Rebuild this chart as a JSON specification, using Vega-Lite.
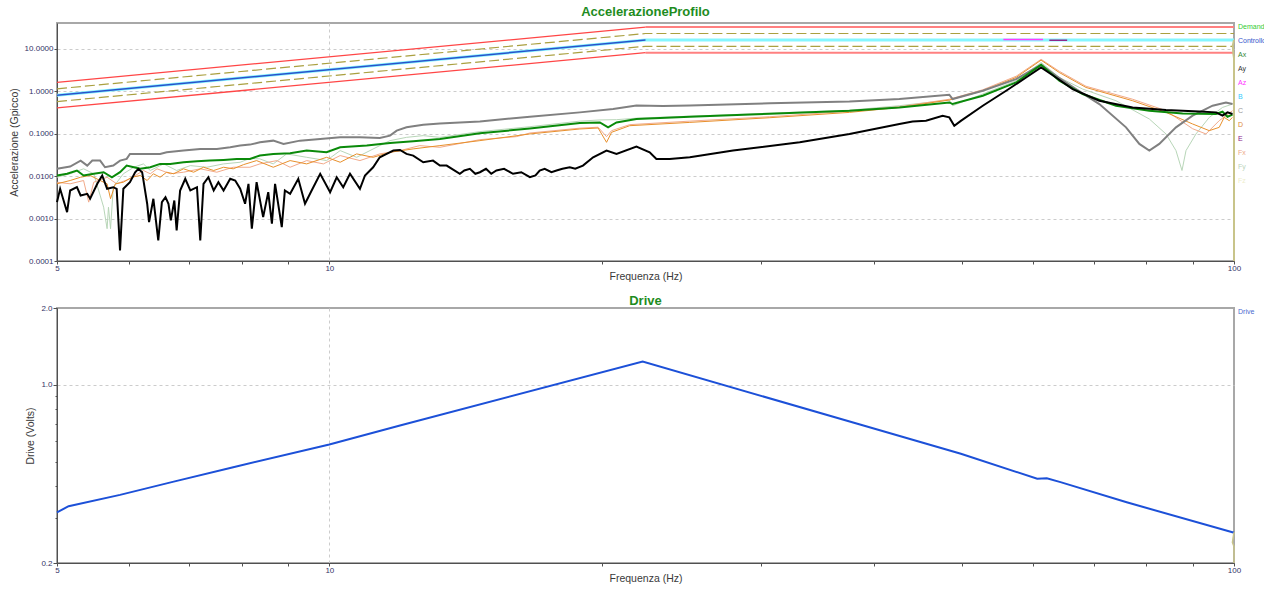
{
  "$schema": "https://vega.github.io/schema/vega-lite/v6.json",
  "background": "white",
  "padding": {"left": 8, "top": 5, "right": 0, "bottom": 0},
  "config": {
    "font": "Liberation Sans",
    "view": {"stroke": "#a8a8a8", "strokeWidth": 2},
    "axis": {
      "labelFont": "Liberation Sans", "labelFontSize": 8, "labelColor": "#333366",
      "titleFont": "Liberation Sans", "titleFontSize": 10.5, "titleFontWeight": "normal", "titleColor": "#3a3a3a",
      "domainColor": "#505050", "tickColor": "#505050", "tickSize": 3,
      "gridColor": "#cccccc", "gridDash": [3, 3], "gridWidth": 1
    },
    "title": {"font": "Liberation Sans", "fontSize": 13, "fontWeight": "bold", "color": "#1e8c1e", "offset": 4, "frame": "group", "anchor": "middle"},
    "legend": {
      "orient": "right", "offset": 2, "padding": 0, "title": null,
      "symbolSize": 1, "symbolOpacity": 0, "symbolStrokeWidth": 0,
      "labelFont": "Liberation Sans", "labelFontSize": 7, "labelOffset": -9, "labelLimit": 40, "rowPadding": 6.0
    }
  },
  "datasets": {
    "abort": [
      {"l": "hi", "t": "rampa", "f": 5, "a": 1.6}, {"l": "hi", "t": "rampa", "f": 22.36, "a": 32},
      {"l": "lo", "t": "rampa", "f": 5, "a": 0.4}, {"l": "lo", "t": "rampa", "f": 22.36, "a": 8},
      {"l": "hi", "t": "piatto", "f": 22.36, "a": 32}, {"l": "hi", "t": "piatto", "f": 100, "a": 32},
      {"l": "lo", "t": "piatto", "f": 22.36, "a": 8}, {"l": "lo", "t": "piatto", "f": 100, "a": 8}
    ],
    "allarme": [
      {"l": "hi", "f": 5, "a": 1.131}, {"l": "hi", "f": 22.36, "a": 22.63}, {"l": "hi", "f": 100, "a": 22.63},
      {"l": "lo", "f": 5, "a": 0.566}, {"l": "lo", "f": 22.36, "a": 11.31}, {"l": "lo", "f": 100, "a": 11.31}
    ],
    "profilo": [
      {"f": 5, "a": 0.8}, {"f": 22.36, "a": 16}, {"f": 100, "a": 16}
    ],
    "controllo": [
      {"s": "Controllo", "f": 5, "a": 0.8}, {"s": "Controllo", "f": 22.36, "a": 16},
      {"s": "Az", "f": 55.6, "a": 16.3}, {"s": "Az", "f": 61.5, "a": 16.3},
      {"s": "E", "f": 62.5, "a": 15.7}, {"s": "E", "f": 65.4, "a": 15.7}
    ],
    "bordo": [
      {"f": 100, "a": 16}, {"f": 99.7, "a": 12}, {"f": 99.8, "a": 8}, {"f": 100, "a": 6}, {"f": 100, "a": 0.0001}
    ],
    "tracce": [
      {"s": "Fy", "f": 5.00, "a": 0.00937}, {"s": "Fy", "f": 5.17, "a": 0.0113}, {"s": "Fy", "f": 5.35, "a": 0.0148}, {"s": "Fy", "f": 5.49, "a": 0.0113},
      {"s": "Fy", "f": 5.63, "a": 0.00185}, {"s": "Fy", "f": 5.68, "a": 0.000576}, {"s": "Fy", "f": 5.70, "a": 0.00185}, {"s": "Fy", "f": 5.73, "a": 0.000576},
      {"s": "Fy", "f": 5.77, "a": 0.00546}, {"s": "Fy", "f": 5.92, "a": 0.0113}, {"s": "Fy", "f": 6.08, "a": 0.0161}, {"s": "Fy", "f": 6.23, "a": 0.0193},
      {"s": "Fy", "f": 6.34, "a": 0.0135}, {"s": "Fy", "f": 6.56, "a": 0.0193}, {"s": "Fy", "f": 6.78, "a": 0.0135}, {"s": "Fy", "f": 7.02, "a": 0.0176},
      {"s": "Fy", "f": 7.32, "a": 0.0161}, {"s": "Fy", "f": 7.64, "a": 0.0193}, {"s": "Fy", "f": 7.97, "a": 0.0211}, {"s": "Fy", "f": 8.17, "a": 0.026},
      {"s": "Fy", "f": 8.38, "a": 0.0253}, {"s": "Fy", "f": 8.67, "a": 0.0193}, {"s": "Fy", "f": 8.97, "a": 0.0332}, {"s": "Fy", "f": 9.44, "a": 0.0276},
      {"s": "Fy", "f": 9.93, "a": 0.0231}, {"s": "Fy", "f": 10.28, "a": 0.0397}, {"s": "Fy", "f": 10.72, "a": 0.0276}, {"s": "Fy", "f": 11.37, "a": 0.052},
      {"s": "Fy", "f": 11.67, "a": 0.0681}, {"s": "Fy", "f": 12.17, "a": 0.0814}, {"s": "Fy", "f": 12.70, "a": 0.0893}, {"s": "Fy", "f": 13.25, "a": 0.0814},
      {"s": "Fy", "f": 14.67, "a": 0.111}, {"s": "Fy", "f": 16.66, "a": 0.145}, {"s": "Fy", "f": 18.92, "a": 0.196}, {"s": "Fy", "f": 19.91, "a": 0.209},
      {"s": "Fy", "f": 20.77, "a": 0.212}, {"s": "Fy", "f": 21.85, "a": 0.23}, {"s": "Fy", "f": 25.03, "a": 0.256}, {"s": "Fy", "f": 30.68, "a": 0.301},
      {"s": "Fy", "f": 37.58, "a": 0.354}, {"s": "Fy", "f": 42.67, "a": 0.452}, {"s": "Fy", "f": 48.45, "a": 0.615}, {"s": "Fy", "f": 48.86, "a": 0.452},
      {"s": "Fy", "f": 52.76, "a": 0.85}, {"s": "Fy", "f": 57.43, "a": 1.745}, {"s": "Fy", "f": 61.20, "a": 4.69}, {"s": "Fy", "f": 64.11, "a": 2.09},
      {"s": "Fy", "f": 68.03, "a": 1.114}, {"s": "Fy", "f": 74.06, "a": 0.592}, {"s": "Fy", "f": 80.61, "a": 0.22}, {"s": "Fy", "f": 84.10, "a": 0.0979},
      {"s": "Fy", "f": 86.27, "a": 0.0397}, {"s": "Fy", "f": 87.60, "a": 0.0135}, {"s": "Fy", "f": 88.50, "a": 0.0397}, {"s": "Fy", "f": 90.78, "a": 0.0979},
      {"s": "Fy", "f": 93.90, "a": 0.24}, {"s": "Fy", "f": 97.12, "a": 0.412}, {"s": "Fy", "f": 99.62, "a": 0.495},

      {"s": "Fx", "f": 5.00, "a": 0.00715}, {"s": "Fx", "f": 5.17, "a": 0.00656}, {"s": "Fx", "f": 5.35, "a": 0.00784}, {"s": "Fx", "f": 5.42, "a": 0.00243},
      {"s": "Fx", "f": 5.49, "a": 0.00715}, {"s": "Fx", "f": 5.68, "a": 0.00937}, {"s": "Fx", "f": 5.82, "a": 0.00656}, {"s": "Fx", "f": 6.02, "a": 0.0086},
      {"s": "Fx", "f": 6.23, "a": 0.0135}, {"s": "Fx", "f": 6.34, "a": 0.0113}, {"s": "Fx", "f": 6.45, "a": 0.0148}, {"s": "Fx", "f": 6.67, "a": 0.0113},
      {"s": "Fx", "f": 6.90, "a": 0.0123}, {"s": "Fx", "f": 7.20, "a": 0.0148}, {"s": "Fx", "f": 7.51, "a": 0.0123}, {"s": "Fx", "f": 7.83, "a": 0.0161},
      {"s": "Fx", "f": 8.17, "a": 0.0161}, {"s": "Fx", "f": 8.38, "a": 0.0193}, {"s": "Fx", "f": 8.75, "a": 0.0231}, {"s": "Fx", "f": 9.05, "a": 0.0161},
      {"s": "Fx", "f": 9.44, "a": 0.0231}, {"s": "Fx", "f": 9.85, "a": 0.0193}, {"s": "Fx", "f": 10.28, "a": 0.0303}, {"s": "Fx", "f": 10.81, "a": 0.0231},
      {"s": "Fx", "f": 11.37, "a": 0.0332}, {"s": "Fx", "f": 11.97, "a": 0.0397}, {"s": "Fx", "f": 12.59, "a": 0.052}, {"s": "Fx", "f": 13.25, "a": 0.0474},
      {"s": "Fx", "f": 14.67, "a": 0.0719}, {"s": "Fx", "f": 16.10, "a": 0.0846}, {"s": "Fx", "f": 16.66, "a": 0.103}, {"s": "Fx", "f": 18.92, "a": 0.134},
      {"s": "Fx", "f": 19.82, "a": 0.141}, {"s": "Fx", "f": 20.25, "a": 0.0846}, {"s": "Fx", "f": 20.51, "a": 0.117}, {"s": "Fx", "f": 21.48, "a": 0.162},
      {"s": "Fx", "f": 25.03, "a": 0.196}, {"s": "Fx", "f": 30.68, "a": 0.249}, {"s": "Fx", "f": 37.58, "a": 0.336}, {"s": "Fx", "f": 42.67, "a": 0.428},
      {"s": "Fx", "f": 48.45, "a": 0.642}, {"s": "Fx", "f": 52.76, "a": 1.073}, {"s": "Fx", "f": 57.43, "a": 2.23}, {"s": "Fx", "f": 61.20, "a": 5.58},
      {"s": "Fx", "f": 64.11, "a": 2.92}, {"s": "Fx", "f": 68.62, "a": 1.296}, {"s": "Fx", "f": 77.26, "a": 0.642}, {"s": "Fx", "f": 84.10, "a": 0.345},
      {"s": "Fx", "f": 90.00, "a": 0.13}, {"s": "Fx", "f": 93.11, "a": 0.0979}, {"s": "Fx", "f": 96.31, "a": 0.201}, {"s": "Fx", "f": 99.62, "a": 0.345},

      {"s": "D", "f": 5.00, "a": 0.00656}, {"s": "D", "f": 5.17, "a": 0.00784}, {"s": "D", "f": 5.31, "a": 0.00937}, {"s": "D", "f": 5.44, "a": 0.0103},
      {"s": "D", "f": 5.58, "a": 0.00784}, {"s": "D", "f": 5.68, "a": 0.00656}, {"s": "D", "f": 5.73, "a": 0.00292}, {"s": "D", "f": 5.80, "a": 0.00656},
      {"s": "D", "f": 5.92, "a": 0.00715}, {"s": "D", "f": 6.05, "a": 0.00937}, {"s": "D", "f": 6.18, "a": 0.0103}, {"s": "D", "f": 6.29, "a": 0.00784},
      {"s": "D", "f": 6.39, "a": 0.0113}, {"s": "D", "f": 6.50, "a": 0.00937}, {"s": "D", "f": 6.61, "a": 0.0123}, {"s": "D", "f": 6.73, "a": 0.0113},
      {"s": "D", "f": 6.90, "a": 0.0148}, {"s": "D", "f": 7.08, "a": 0.0123}, {"s": "D", "f": 7.26, "a": 0.0161}, {"s": "D", "f": 7.45, "a": 0.0135},
      {"s": "D", "f": 7.64, "a": 0.0161}, {"s": "D", "f": 7.83, "a": 0.0148}, {"s": "D", "f": 8.04, "a": 0.0186}, {"s": "D", "f": 8.31, "a": 0.0231},
      {"s": "D", "f": 8.67, "a": 0.0161}, {"s": "D", "f": 9.05, "a": 0.0231}, {"s": "D", "f": 9.44, "a": 0.0193}, {"s": "D", "f": 9.93, "a": 0.0276},
      {"s": "D", "f": 10.28, "a": 0.0211}, {"s": "D", "f": 10.72, "a": 0.0332}, {"s": "D", "f": 11.18, "a": 0.0276}, {"s": "D", "f": 11.67, "a": 0.0362},
      {"s": "D", "f": 12.38, "a": 0.0435}, {"s": "D", "f": 13.25, "a": 0.052}, {"s": "D", "f": 14.67, "a": 0.0681}, {"s": "D", "f": 16.66, "a": 0.0979},
      {"s": "D", "f": 18.92, "a": 0.128}, {"s": "D", "f": 19.82, "a": 0.135}, {"s": "D", "f": 20.25, "a": 0.0621}, {"s": "D", "f": 20.51, "a": 0.107},
      {"s": "D", "f": 21.48, "a": 0.153}, {"s": "D", "f": 25.03, "a": 0.183}, {"s": "D", "f": 30.68, "a": 0.236}, {"s": "D", "f": 37.58, "a": 0.315},
      {"s": "D", "f": 42.67, "a": 0.412}, {"s": "D", "f": 48.45, "a": 0.615}, {"s": "D", "f": 52.76, "a": 1.016}, {"s": "D", "f": 57.43, "a": 2.09},
      {"s": "D", "f": 61.20, "a": 5.34}, {"s": "D", "f": 64.11, "a": 2.73}, {"s": "D", "f": 68.62, "a": 1.215}, {"s": "D", "f": 77.26, "a": 0.592},
      {"s": "D", "f": 84.10, "a": 0.315}, {"s": "D", "f": 90.00, "a": 0.168}, {"s": "D", "f": 93.90, "a": 0.117}, {"s": "D", "f": 96.31, "a": 0.14},
      {"s": "D", "f": 97.54, "a": 0.24}, {"s": "D", "f": 98.79, "a": 0.201}, {"s": "D", "f": 99.62, "a": 0.24},

      {"s": "C", "f": 5.00, "a": 0.0148}, {"s": "C", "f": 5.17, "a": 0.0167}, {"s": "C", "f": 5.31, "a": 0.0231}, {"s": "C", "f": 5.40, "a": 0.0176},
      {"s": "C", "f": 5.47, "a": 0.0231}, {"s": "C", "f": 5.58, "a": 0.0231}, {"s": "C", "f": 5.65, "a": 0.0161}, {"s": "C", "f": 5.77, "a": 0.0176},
      {"s": "C", "f": 5.87, "a": 0.0231}, {"s": "C", "f": 5.97, "a": 0.0253}, {"s": "C", "f": 6.02, "a": 0.0332}, {"s": "C", "f": 6.18, "a": 0.0332},
      {"s": "C", "f": 6.34, "a": 0.0332}, {"s": "C", "f": 6.50, "a": 0.0332}, {"s": "C", "f": 6.61, "a": 0.0362}, {"s": "C", "f": 6.90, "a": 0.0397},
      {"s": "C", "f": 7.20, "a": 0.0435}, {"s": "C", "f": 7.51, "a": 0.0435}, {"s": "C", "f": 7.77, "a": 0.0474}, {"s": "C", "f": 7.97, "a": 0.052},
      {"s": "C", "f": 8.17, "a": 0.0549}, {"s": "C", "f": 8.38, "a": 0.0621}, {"s": "C", "f": 8.67, "a": 0.0681}, {"s": "C", "f": 8.90, "a": 0.057},
      {"s": "C", "f": 9.28, "a": 0.0681}, {"s": "C", "f": 9.77, "a": 0.0747}, {"s": "C", "f": 10.28, "a": 0.0814}, {"s": "C", "f": 10.81, "a": 0.0814},
      {"s": "C", "f": 11.37, "a": 0.0788}, {"s": "C", "f": 11.67, "a": 0.0893}, {"s": "C", "f": 11.87, "a": 0.117}, {"s": "C", "f": 12.17, "a": 0.14},
      {"s": "C", "f": 12.70, "a": 0.162}, {"s": "C", "f": 13.25, "a": 0.173}, {"s": "C", "f": 14.67, "a": 0.193}, {"s": "C", "f": 16.66, "a": 0.249},
      {"s": "C", "f": 18.92, "a": 0.315}, {"s": "C", "f": 20.59, "a": 0.378}, {"s": "C", "f": 21.85, "a": 0.459}, {"s": "C", "f": 23.38, "a": 0.444},
      {"s": "C", "f": 25.03, "a": 0.459}, {"s": "C", "f": 30.68, "a": 0.517}, {"s": "C", "f": 37.58, "a": 0.57}, {"s": "C", "f": 42.67, "a": 0.649},
      {"s": "C", "f": 48.45, "a": 0.819}, {"s": "C", "f": 48.86, "a": 0.649}, {"s": "C", "f": 52.76, "a": 1.016}, {"s": "C", "f": 57.43, "a": 1.91},
      {"s": "C", "f": 61.20, "a": 4.2}, {"s": "C", "f": 63.58, "a": 2.29}, {"s": "C", "f": 66.89, "a": 1.114}, {"s": "C", "f": 70.98, "a": 0.495},
      {"s": "C", "f": 75.97, "a": 0.14}, {"s": "C", "f": 78.59, "a": 0.057}, {"s": "C", "f": 80.61, "a": 0.0397}, {"s": "C", "f": 82.68, "a": 0.057},
      {"s": "C", "f": 86.27, "a": 0.14}, {"s": "C", "f": 90.00, "a": 0.263}, {"s": "C", "f": 94.69, "a": 0.452}, {"s": "C", "f": 97.97, "a": 0.54},
      {"s": "C", "f": 99.62, "a": 0.495},

      {"s": "Ax", "f": 5.00, "a": 0.0103}, {"s": "Ax", "f": 5.13, "a": 0.0113}, {"s": "Ax", "f": 5.26, "a": 0.0135}, {"s": "Ax", "f": 5.35, "a": 0.0103},
      {"s": "Ax", "f": 5.49, "a": 0.0113}, {"s": "Ax", "f": 5.63, "a": 0.0123}, {"s": "Ax", "f": 5.75, "a": 0.00937}, {"s": "Ax", "f": 5.87, "a": 0.0123},
      {"s": "Ax", "f": 5.97, "a": 0.0176}, {"s": "Ax", "f": 6.08, "a": 0.0161}, {"s": "Ax", "f": 6.18, "a": 0.0148}, {"s": "Ax", "f": 6.34, "a": 0.0161},
      {"s": "Ax", "f": 6.50, "a": 0.0193}, {"s": "Ax", "f": 6.67, "a": 0.0193}, {"s": "Ax", "f": 6.90, "a": 0.0211}, {"s": "Ax", "f": 7.14, "a": 0.0223},
      {"s": "Ax", "f": 7.38, "a": 0.0231}, {"s": "Ax", "f": 7.64, "a": 0.024}, {"s": "Ax", "f": 7.90, "a": 0.0253}, {"s": "Ax", "f": 8.17, "a": 0.0253},
      {"s": "Ax", "f": 8.38, "a": 0.0303}, {"s": "Ax", "f": 8.67, "a": 0.0332}, {"s": "Ax", "f": 9.05, "a": 0.0343}, {"s": "Ax", "f": 9.44, "a": 0.0397},
      {"s": "Ax", "f": 9.93, "a": 0.0362}, {"s": "Ax", "f": 10.28, "a": 0.0474}, {"s": "Ax", "f": 11.00, "a": 0.052}, {"s": "Ax", "f": 11.67, "a": 0.0602},
      {"s": "Ax", "f": 12.38, "a": 0.0656}, {"s": "Ax", "f": 13.25, "a": 0.0747}, {"s": "Ax", "f": 14.67, "a": 0.101}, {"s": "Ax", "f": 16.66, "a": 0.132},
      {"s": "Ax", "f": 18.92, "a": 0.177}, {"s": "Ax", "f": 19.91, "a": 0.183}, {"s": "Ax", "f": 20.33, "a": 0.14}, {"s": "Ax", "f": 20.77, "a": 0.183},
      {"s": "Ax", "f": 21.85, "a": 0.22}, {"s": "Ax", "f": 25.03, "a": 0.249}, {"s": "Ax", "f": 30.68, "a": 0.293}, {"s": "Ax", "f": 37.58, "a": 0.345},
      {"s": "Ax", "f": 42.67, "a": 0.412}, {"s": "Ax", "f": 48.45, "a": 0.54}, {"s": "Ax", "f": 48.86, "a": 0.495}, {"s": "Ax", "f": 52.76, "a": 0.776},
      {"s": "Ax", "f": 57.43, "a": 1.592}, {"s": "Ax", "f": 61.20, "a": 4.14}, {"s": "Ax", "f": 64.11, "a": 1.745}, {"s": "Ax", "f": 68.03, "a": 0.85},
      {"s": "Ax", "f": 74.06, "a": 0.452}, {"s": "Ax", "f": 80.61, "a": 0.345}, {"s": "Ax", "f": 87.73, "a": 0.298}, {"s": "Ax", "f": 95.51, "a": 0.288},
      {"s": "Ax", "f": 97.12, "a": 0.327}, {"s": "Ax", "f": 98.36, "a": 0.249}, {"s": "Ax", "f": 99.62, "a": 0.278},

      {"s": "Ay", "f": 5.00, "a": 0.00243}, {"s": "Ay", "f": 5.04, "a": 0.00501}, {"s": "Ay", "f": 5.13, "a": 0.00141}, {"s": "Ay", "f": 5.17, "a": 0.00457},
      {"s": "Ay", "f": 5.26, "a": 0.00546}, {"s": "Ay", "f": 5.31, "a": 0.00349}, {"s": "Ay", "f": 5.40, "a": 0.00382}, {"s": "Ay", "f": 5.44, "a": 0.00292},
      {"s": "Ay", "f": 5.54, "a": 0.00656}, {"s": "Ay", "f": 5.61, "a": 0.0103}, {"s": "Ay", "f": 5.68, "a": 0.00501}, {"s": "Ay", "f": 5.77, "a": 0.00546},
      {"s": "Ay", "f": 5.82, "a": 0.00501}, {"s": "Ay", "f": 5.87, "a": 0.000178}, {"s": "Ay", "f": 5.92, "a": 0.00501}, {"s": "Ay", "f": 6.02, "a": 0.00715},
      {"s": "Ay", "f": 6.10, "a": 0.0123}, {"s": "Ay", "f": 6.15, "a": 0.0148}, {"s": "Ay", "f": 6.21, "a": 0.0123}, {"s": "Ay", "f": 6.29, "a": 0.00223},
      {"s": "Ay", "f": 6.32, "a": 0.000823}, {"s": "Ay", "f": 6.39, "a": 0.00292}, {"s": "Ay", "f": 6.47, "a": 0.000306}, {"s": "Ay", "f": 6.53, "a": 0.00243},
      {"s": "Ay", "f": 6.59, "a": 0.00318}, {"s": "Ay", "f": 6.64, "a": 0.00223}, {"s": "Ay", "f": 6.68, "a": 0.000902}, {"s": "Ay", "f": 6.74, "a": 0.00266},
      {"s": "Ay", "f": 6.78, "a": 0.000526}, {"s": "Ay", "f": 6.84, "a": 0.00457}, {"s": "Ay", "f": 6.93, "a": 0.0086}, {"s": "Ay", "f": 7.02, "a": 0.00457},
      {"s": "Ay", "f": 7.14, "a": 0.00546}, {"s": "Ay", "f": 7.20, "a": 0.000306}, {"s": "Ay", "f": 7.26, "a": 0.00656}, {"s": "Ay", "f": 7.35, "a": 0.00937},
      {"s": "Ay", "f": 7.45, "a": 0.00457}, {"s": "Ay", "f": 7.54, "a": 0.00715}, {"s": "Ay", "f": 7.64, "a": 0.00457}, {"s": "Ay", "f": 7.77, "a": 0.0086},
      {"s": "Ay", "f": 7.87, "a": 0.00784}, {"s": "Ay", "f": 7.97, "a": 0.00501}, {"s": "Ay", "f": 8.07, "a": 0.00223}, {"s": "Ay", "f": 8.14, "a": 0.00656},
      {"s": "Ay", "f": 8.21, "a": 0.000576}, {"s": "Ay", "f": 8.31, "a": 0.00715}, {"s": "Ay", "f": 8.45, "a": 0.00108}, {"s": "Ay", "f": 8.56, "a": 0.00417},
      {"s": "Ay", "f": 8.64, "a": 0.000755}, {"s": "Ay", "f": 8.71, "a": 0.00656}, {"s": "Ay", "f": 8.86, "a": 0.000628}, {"s": "Ay", "f": 8.93, "a": 0.00457},
      {"s": "Ay", "f": 9.05, "a": 0.00382}, {"s": "Ay", "f": 9.24, "a": 0.0086}, {"s": "Ay", "f": 9.40, "a": 0.00223}, {"s": "Ay", "f": 9.56, "a": 0.00457},
      {"s": "Ay", "f": 9.77, "a": 0.0113}, {"s": "Ay", "f": 10.02, "a": 0.00417}, {"s": "Ay", "f": 10.19, "a": 0.00937}, {"s": "Ay", "f": 10.36, "a": 0.00546},
      {"s": "Ay", "f": 10.54, "a": 0.0113}, {"s": "Ay", "f": 10.81, "a": 0.00501}, {"s": "Ay", "f": 10.95, "a": 0.0103}, {"s": "Ay", "f": 11.18, "a": 0.0161},
      {"s": "Ay", "f": 11.37, "a": 0.0276}, {"s": "Ay", "f": 11.57, "a": 0.0332}, {"s": "Ay", "f": 11.77, "a": 0.0397}, {"s": "Ay", "f": 11.97, "a": 0.0412},
      {"s": "Ay", "f": 12.17, "a": 0.0332}, {"s": "Ay", "f": 12.38, "a": 0.0303}, {"s": "Ay", "f": 12.70, "a": 0.0211}, {"s": "Ay", "f": 13.02, "a": 0.0231},
      {"s": "Ay", "f": 13.25, "a": 0.0176}, {"s": "Ay", "f": 13.48, "a": 0.0176}, {"s": "Ay", "f": 13.94, "a": 0.0113}, {"s": "Ay", "f": 14.10, "a": 0.0135},
      {"s": "Ay", "f": 14.30, "a": 0.0148}, {"s": "Ay", "f": 14.50, "a": 0.0113}, {"s": "Ay", "f": 14.67, "a": 0.0123}, {"s": "Ay", "f": 14.90, "a": 0.0148},
      {"s": "Ay", "f": 15.10, "a": 0.0113}, {"s": "Ay", "f": 15.30, "a": 0.0135}, {"s": "Ay", "f": 15.60, "a": 0.0148}, {"s": "Ay", "f": 15.96, "a": 0.0113},
      {"s": "Ay", "f": 16.30, "a": 0.0123}, {"s": "Ay", "f": 16.66, "a": 0.00937}, {"s": "Ay", "f": 16.90, "a": 0.0103}, {"s": "Ay", "f": 17.08, "a": 0.0135},
      {"s": "Ay", "f": 17.30, "a": 0.0148}, {"s": "Ay", "f": 17.60, "a": 0.0123}, {"s": "Ay", "f": 17.83, "a": 0.0135}, {"s": "Ay", "f": 18.10, "a": 0.0148},
      {"s": "Ay", "f": 18.44, "a": 0.0161}, {"s": "Ay", "f": 18.70, "a": 0.0148}, {"s": "Ay", "f": 19.07, "a": 0.0176}, {"s": "Ay", "f": 19.57, "a": 0.0276},
      {"s": "Ay", "f": 20.25, "a": 0.0397}, {"s": "Ay", "f": 20.77, "a": 0.0332}, {"s": "Ay", "f": 21.85, "a": 0.0493}, {"s": "Ay", "f": 22.60, "a": 0.0362},
      {"s": "Ay", "f": 22.99, "a": 0.0253}, {"s": "Ay", "f": 23.78, "a": 0.0253}, {"s": "Ay", "f": 25.03, "a": 0.0276}, {"s": "Ay", "f": 27.94, "a": 0.0397},
      {"s": "Ay", "f": 33.11, "a": 0.0621}, {"s": "Ay", "f": 37.58, "a": 0.0979}, {"s": "Ay", "f": 42.67, "a": 0.168}, {"s": "Ay", "f": 44.13, "a": 0.193},
      {"s": "Ay", "f": 45.66, "a": 0.201}, {"s": "Ay", "f": 47.63, "a": 0.263}, {"s": "Ay", "f": 48.45, "a": 0.24}, {"s": "Ay", "f": 49.07, "a": 0.153},
      {"s": "Ay", "f": 49.94, "a": 0.201}, {"s": "Ay", "f": 52.76, "a": 0.452}, {"s": "Ay", "f": 55.99, "a": 1.016}, {"s": "Ay", "f": 58.91, "a": 2.09},
      {"s": "Ay", "f": 61.20, "a": 3.58}, {"s": "Ay", "f": 63.58, "a": 2.09}, {"s": "Ay", "f": 66.32, "a": 1.114}, {"s": "Ay", "f": 70.98, "a": 0.592},
      {"s": "Ay", "f": 77.26, "a": 0.412}, {"s": "Ay", "f": 84.10, "a": 0.358}, {"s": "Ay", "f": 91.54, "a": 0.332}, {"s": "Ay", "f": 95.51, "a": 0.315},
      {"s": "Ay", "f": 97.12, "a": 0.263}, {"s": "Ay", "f": 98.36, "a": 0.315}, {"s": "Ay", "f": 99.62, "a": 0.288}
    ],
    "drive": [
      {"s": "Drive", "f": 5.00, "v": 0.316}, {"s": "Drive", "f": 5.15, "v": 0.334}, {"s": "Drive", "f": 5.87, "v": 0.37},
      {"s": "Drive", "f": 6.73, "v": 0.417}, {"s": "Drive", "f": 7.83, "v": 0.475}, {"s": "Drive", "f": 10.0, "v": 0.583},
      {"s": "Drive", "f": 11.97, "v": 0.692}, {"s": "Drive", "f": 22.2, "v": 1.234}, {"s": "Drive", "f": 38.6, "v": 0.698},
      {"s": "Drive", "f": 49.9, "v": 0.536}, {"s": "Drive", "f": 60.6, "v": 0.428}, {"s": "Drive", "f": 62.1, "v": 0.43},
      {"s": "Drive", "f": 64.3, "v": 0.415}, {"s": "Drive", "f": 76.1, "v": 0.346}, {"s": "Drive", "f": 99.6, "v": 0.264},
      {"s": "Drive", "f": 100, "v": 0.263}
    ],
    "drive_bordo": [
      {"f": 100, "v": 0.264}, {"f": 99.6, "v": 0.241}, {"f": 100, "v": 0.232}, {"f": 100, "v": 0.2}
    ]
  },
  "vconcat": [
    {
      "name": "accelerazione",
      "width": 1177,
      "height": 238,
      "title": {"text": "AccelerazioneProfilo"},
      "encoding": {
        "x": {
          "field": "f", "type": "quantitative",
          "scale": {"type": "log", "domain": [5, 100], "nice": false},
          "axis": {
            "title": "Frequenza (Hz)",
            "values": [5, 6, 7, 8, 9, 10, 20, 30, 40, 50, 60, 70, 80, 90, 100],
            "labelExpr": "datum.value == 5 || datum.value == 10 || datum.value == 100 ? '' + datum.value : ''",
            "labelOverlap": false, "labelFlush": false, "labelPadding": 0, "titlePadding": -1,
            "grid": true,
            "gridOpacity": {"condition": {"test": "datum.value == 10", "value": 1}, "value": 0}
          }
        },
        "y": {
          "field": "a", "type": "quantitative",
          "scale": {"type": "log", "domain": [0.0001, 40], "nice": false},
          "axis": {
            "title": "Accelerazione (Gpicco)",
            "values": [0.0001, 0.001, 0.01, 0.1, 1, 10],
            "format": ".4f", "labelOverlap": false, "labelPadding": 1, "titlePadding": 5, "grid": true
          }
        }
      },
      "layer": [
        {
          "data": {"name": "abort"},
          "transform": [{"filter": "datum.t == 'piatto'"}],
          "mark": {"type": "line", "color": "#ff8080", "strokeWidth": 2},
          "encoding": {"detail": {"field": "l"}}
        },
        {
          "data": {"name": "abort"},
          "transform": [{"filter": "datum.t == 'rampa'"}],
          "mark": {"type": "line", "color": "#ff4646", "strokeWidth": 1.3},
          "encoding": {"detail": {"field": "l"}}
        },
        {
          "data": {"name": "allarme"},
          "mark": {"type": "line", "color": "#aaa040", "strokeWidth": 1.2, "strokeDash": [10, 4]},
          "encoding": {"detail": {"field": "l"}}
        },
        {
          "data": {"name": "tracce"},
          "transform": [{"filter": "datum.s == 'Fy' || datum.s == 'Fx' || datum.s == 'D'"}],
          "mark": {"type": "line", "strokeWidth": 1},
          "encoding": {
            "color": {
              "field": "s", "type": "nominal",
              "scale": {
                "domain": ["Demand", "Controllo", "Ax", "Ay", "Az", "B", "C", "D", "E", "Fx", "Fy", "Fz"],
                "range": ["#3cc83c", "#2a52cc", "#0a8a0a", "#000000", "#ff3cff", "#3cd2f0", "#808080", "#e8902c", "#8c288c", "#f2aa8a", "#b8d6b8", "#ecebc8"]
              },
              "legend": {
                "encode": {"labels": {"update": {"fill": {"signal": "({'Demand': '#33cc33', 'Controllo': '#3355cc', 'Ax': '#338833', 'Ay': '#333333', 'Az': '#ff33ff', 'B': '#33ccff', 'C': '#999999', 'D': '#dd8833', 'E': '#882288', 'Fx': '#eeaa88', 'Fy': '#bbd4bb', 'Fz': '#eeeecc'})[datum.value]"}}}}
              }
            }
          }
        },
        {
          "data": {"name": "tracce"},
          "transform": [{"filter": "datum.s == 'C' || datum.s == 'Ax' || datum.s == 'Ay'"}],
          "mark": {"type": "line", "strokeWidth": 2},
          "encoding": {"color": {"field": "s", "type": "nominal"}}
        },
        {
          "data": {"name": "profilo"},
          "mark": {"type": "line", "color": "#86f6ff", "strokeWidth": 3},
          "encoding": {}
        },
        {
          "data": {"name": "controllo"},
          "mark": {"type": "line", "strokeWidth": 1.5},
          "encoding": {"color": {"field": "s", "type": "nominal"}}
        },
        {
          "data": {"name": "bordo"},
          "mark": {"type": "line", "color": "#c8c48a", "strokeWidth": 2},
          "encoding": {"order": {"value": null}}
        }
      ]
    },
    {
      "name": "drive",
      "width": 1177,
      "height": 255,
      "title": {"text": "Drive", "offset": -4},
      "encoding": {
        "x": {
          "field": "f", "type": "quantitative",
          "scale": {"type": "log", "domain": [5, 100], "nice": false},
          "axis": {
            "title": "Frequenza (Hz)",
            "values": [5, 6, 7, 8, 9, 10, 20, 30, 40, 50, 60, 70, 80, 90, 100],
            "labelExpr": "datum.value == 5 || datum.value == 10 || datum.value == 100 ? '' + datum.value : ''",
            "labelOverlap": false, "labelFlush": false, "labelPadding": 0, "titlePadding": -1,
            "grid": true,
            "gridOpacity": {"condition": {"test": "datum.value == 10", "value": 1}, "value": 0}
          }
        },
        "y": {
          "field": "v", "type": "quantitative",
          "scale": {"type": "log", "domain": [0.2, 2], "nice": false},
          "axis": {
            "title": "Drive (Volts)",
            "values": [0.2, 0.3, 0.4, 0.5, 0.6, 0.7, 0.8, 0.9, 1, 2],
            "labelExpr": "datum.value == 0.2 || datum.value == 1 || datum.value == 2 ? format(datum.value, '.1f') : ''",
            "labelOverlap": false, "labelPadding": 1, "titlePadding": 5,
            "tickSize": {"condition": {"test": "datum.value == 0.2 || datum.value == 1 || datum.value == 2", "value": 4}, "value": 2},
            "grid": true,
            "gridOpacity": {"condition": {"test": "datum.value == 1", "value": 1}, "value": 0}
          }
        }
      },
      "layer": [
        {
          "data": {"name": "drive"},
          "mark": {"type": "line", "strokeWidth": 2},
          "encoding": {
            "color": {
              "field": "s", "type": "nominal",
              "scale": {"domain": ["Drive"], "range": ["#1c50d8"]},
              "legend": {"encode": {"labels": {"update": {"fill": {"value": "#4a6ad0"}}}}}
            }
          }
        },
        {
          "data": {"name": "drive_bordo"},
          "mark": {"type": "line", "color": "#c8c48a", "strokeWidth": 1.5},
          "encoding": {"order": {"value": null}}
        }
      ]
    }
  ],
  "spacing": 47,
  "bounds": "flush",
  "resolve": {"scale": {"color": "independent"}, "legend": {"color": "independent"}}
}
